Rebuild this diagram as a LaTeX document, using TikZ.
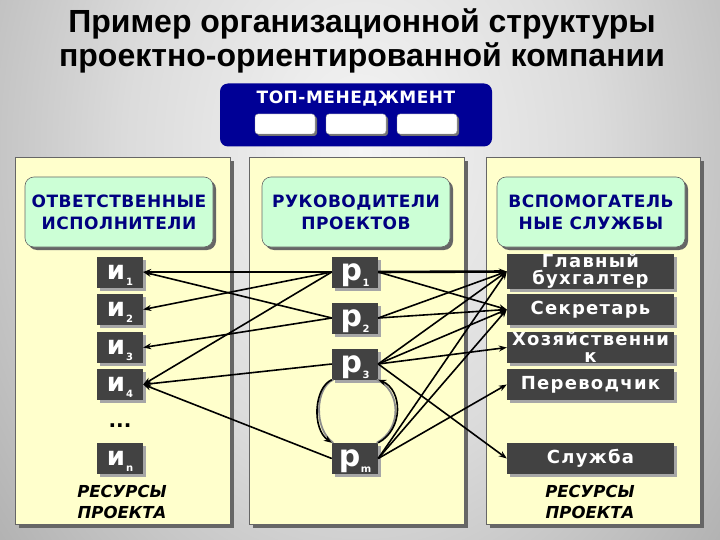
\documentclass[tikz,border=0pt]{standalone}
\usepackage{fontspec}
\setmainfont{Liberation Sans}
\newfontfamily\dvs{DejaVu Sans}
\newfontfamily\dvsl{DejaVu Sans}[LetterSpace=3]
\newfontfamily\dvsw{DejaVu Sans}[LetterSpace=7]
\usetikzlibrary{arrows.meta,shadows}

\definecolor{paneyellow}{RGB}{255,255,204}
\definecolor{headgreen}{RGB}{204,255,214}
\definecolor{topnavy}{RGB}{0,0,150}
\definecolor{headtext}{RGB}{0,0,128}
\definecolor{darkbox}{RGB}{66,66,66}
\definecolor{bgA}{gray}{0.96}
\definecolor{bgB}{gray}{0.86}
\definecolor{bgC}{gray}{0.56}
\definecolor{bgD}{gray}{0.42}
\pgfdeclareradialshading{bgshade}{\pgfpoint{0bp}{0bp}}{color(0bp)=(bgA); color(14bp)=(bgB); color(40bp)=(bgC); color(60bp)=(bgD)}

\newcommand\ilab[2]{{\dvs\bfseries\fontsize{26}{26}\selectfont #1}\kern1pt\raisebox{-6pt}{\dvs\bfseries\fontsize{10}{10}\selectfont #2}}
\newcommand\plab[2]{{\dvs\bfseries\fontsize{30}{30}\selectfont #1}\kern0.5pt\raisebox{-6pt}{\dvs\bfseries\fontsize{10}{10}\selectfont #2}}

\begin{document}
\begin{tikzpicture}[x=1pt,y=-1pt,
  panelbox/.style={draw=black!60, fill=paneyellow, line width=0.6pt, inner sep=0pt,
    minimum height=367pt, drop shadow={shadow xshift=4pt, shadow yshift=-4pt, fill=black!60, opacity=1}},
  headbox/.style={draw=black!60, fill=headgreen, line width=0.6pt, rounded corners=9pt,
    minimum width=188pt, minimum height=70pt, inner sep=0pt, text=headtext, align=center,
    font=\dvsl\bfseries\fontsize{17}{22}\selectfont,
    drop shadow={shadow xshift=3pt, shadow yshift=-3pt, fill=black!60, opacity=1}},
  dbox/.style={fill=darkbox, draw=none, minimum width=46pt, minimum height=31pt, inner sep=0pt,
    text=white, text height=14pt, text depth=0pt,
    drop shadow={shadow xshift=3pt, shadow yshift=-3pt, fill=black!35, opacity=1}},
  pbox/.style={dbox, text height=16pt},
  sbox/.style={fill=darkbox, draw=none, minimum width=167pt, minimum height=31pt, inner sep=0pt,
    text=white, align=center, font=\dvsw\bfseries\fontsize{18}{17}\selectfont,
    drop shadow={shadow xshift=3pt, shadow yshift=-3pt, fill=black!35, opacity=1}},
  wbox/.style={fill=white, draw=black!40, rounded corners=3pt, minimum width=60pt, minimum height=20pt,
    inner sep=0pt, drop shadow={shadow xshift=2pt, shadow yshift=-2pt, fill=black!55, opacity=1}},
  restext/.style={align=center, font=\dvs\bfseries\itshape\fontsize{16.5}{21}\selectfont},
  conn/.style={draw=black, line width=1.6pt, -{Stealth[length=8pt,width=6pt]}},
  thickconn/.style={conn, line width=2.6pt},
  arcshadow/.style={draw=black!45, line width=1.8pt},
]
\useasboundingbox (0,0) rectangle (720,540);
\begin{scope}
\clip (0,0) rectangle (720,540);
\shade[shading=bgshade] (-60,-400) rectangle (780,700);
\end{scope}

% title
\node[anchor=base, font=\bfseries\fontsize{32}{34}\selectfont] (title1) at (362,33) {Пример организационной структуры};
\node[anchor=base, font=\bfseries\fontsize{32}{34}\selectfont] (title2) at (362,67) {проектно-ориентированной компании};

% top management
\node[fill=topnavy, rounded corners=8pt, minimum width=272pt, minimum height=63pt, inner sep=0pt] (top) at (356,115) {};
\node[anchor=base, text=white, font=\dvsl\bfseries\fontsize{17}{17}\selectfont] (toptext) at (356,104) {ТОП-МЕНЕДЖМЕНТ};
\node[wbox] (w1) at (285,124) {};
\node[wbox] (w2) at (356,124) {};
\node[wbox] (w3) at (427,124) {};

% panels
\node[panelbox, minimum width=215pt] (lp) at (122.5,340.5) {};
\node[panelbox, minimum width=215pt] (mp) at (356.5,340.5) {};
\node[panelbox, minimum width=214pt] (rp) at (593,340.5) {};

% headers
\node[headbox] (h1) at (119,212) {ОТВЕТСТВЕННЫЕ\\ИСПОЛНИТЕЛИ};
\node[headbox] (h2) at (356,212) {РУКОВОДИТЕЛИ\\ПРОЕКТОВ};
\node[headbox] (h3) at (591,212) {ВСПОМОГАТЕЛЬ\\НЫЕ СЛУЖБЫ};

% executors
\node[dbox] (i1) at (120,272) {\ilab{и}{1}};
\node[dbox] (i2) at (120,309.5) {\ilab{и}{2}};
\node[dbox] (i3) at (120,347.5) {\ilab{и}{3}};
\node[dbox] (i4) at (120,384.5) {\ilab{и}{4}};
\node[font=\dvs\bfseries\fontsize{20}{20}\selectfont] (dots) at (120,426) {...};
\node[dbox] (in) at (120,458.5) {\ilab{и}{n}};
\node[restext] (res1) at (122,502) {РЕСУРСЫ\\ПРОЕКТА};

% managers
\node[pbox] (p1) at (355,272) {\plab{р}{1}};
\node[pbox] (p2) at (355,318) {\plab{р}{2}};
\node[pbox] (p3) at (355,364) {\plab{р}{3}};
\node[pbox] (pm) at (355,458.5) {\plab{р}{m}};

% services
\node[sbox] (s1) at (590.5,271.5) {Главный\\бухгалтер};
\node[sbox] (s2) at (590.5,309.5) {Секретарь};
\node[sbox] (s3) at (590.5,347.5) {Хозяйственни\\к};
\node[sbox] (s4) at (590.5,384.5) {Переводчик};
\node[sbox] (s5) at (590.5,458.5) {Служба};
\node[restext] (res2) at (590,502) {РЕСУРСЫ\\ПРОЕКТА};

% connectors to executors
\draw[thickconn] (p1.west) -- (i1.east);
\draw[conn] (p2.west) -- (i1.east);
\draw[conn] (p1.west) -- (i2.east);
\draw[conn] (p2.west) -- (i3.east);
\draw[conn] (p1.west) -- (i4.east);
\draw[conn] (p3.west) -- (i4.east);
\draw[conn] (pm.west) -- (i4.east);

% connectors to services
\draw[thickconn] (p1.east) -- (s1.west);
\draw[conn] (p1.east) -- (s2.west);
\draw[conn] (p2.east) -- (s1.west);
\draw[conn] (p2.east) -- (s2.west);
\draw[conn] (p3.east) -- (s1.west);
\draw[conn] (p3.east) -- (s2.west);
\draw[conn] (p3.east) -- (s3.west);
\draw[conn] (p3.east) -- (s5.west);
\draw[conn] (pm.east) -- (s1.west);
\draw[conn] (pm.east) -- (s2.west);
\draw[conn] (pm.east) -- (s4.west);

% arcs between p3 and pm
\draw[arcshadow] ([xshift=1.5pt]p3.south west) .. controls +(-18,8) and +(-20,-14) .. ([xshift=1.5pt]pm.north west);
\draw[conn] (p3.south west) .. controls +(-18,8) and +(-20,-14) .. (pm.north west);
\draw[arcshadow] ([xshift=-1.5pt]pm.north east) .. controls +(26,-14) and +(24,10) .. ([xshift=-1.5pt]p3.south east);
\draw[conn] (pm.north east) .. controls +(26,-14) and +(24,10) .. (p3.south east);
\end{tikzpicture}
\end{document}
